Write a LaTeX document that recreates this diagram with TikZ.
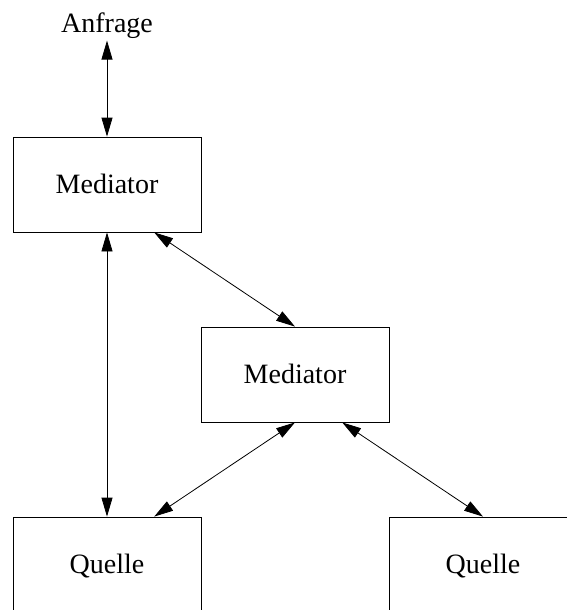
\documentclass[tikz,border=0pt]{standalone}
\usepackage{fontspec}
\setmainfont{Liberation Serif}
\usetikzlibrary{arrows.meta,calc}
\begin{document}
\begin{tikzpicture}[x=1pt,y=-1pt,
  box/.style={draw,line width=0.8pt,minimum width=188pt,minimum height=95pt,
    inner sep=0pt,text height=18.5pt,text depth=0pt,
    font=\fontsize{28}{33}\selectfont},
  caption/.style={font=\fontsize{28}{33}\selectfont,inner sep=2pt},
  link/.style={line width=0.8pt,
    {Triangle[length=19pt,width=11pt]}-{Triangle[length=19pt,width=11pt]}}]
\useasboundingbox (0,0) rectangle (567,610);
\clip (0,0) rectangle (567,610);
% nodes
\node[caption] (a) at (107,25.5) {Anfrage};
\node[box] (m1) at (107,184.5) {Mediator};
\node[box] (m2) at (295,374.5) {Mediator};
\node[box] (q1) at (107,564.5) {Quelle};
\node[box] (q2) at (483,564.5) {Quelle};
% connectors
\draw[link] (a.south) -- (m1.north);
\draw[link] (m1.south) -- (q1.north);
\draw[link] ($(m1.south)!0.5!(m1.south east)$) -- (m2.north);
\draw[link] (m2.south) -- ($(q1.north)!0.5!(q1.north east)$);
\draw[link] ($(m2.south)!0.5!(m2.south east)$) -- (q2.north);
\end{tikzpicture}
\end{document}
